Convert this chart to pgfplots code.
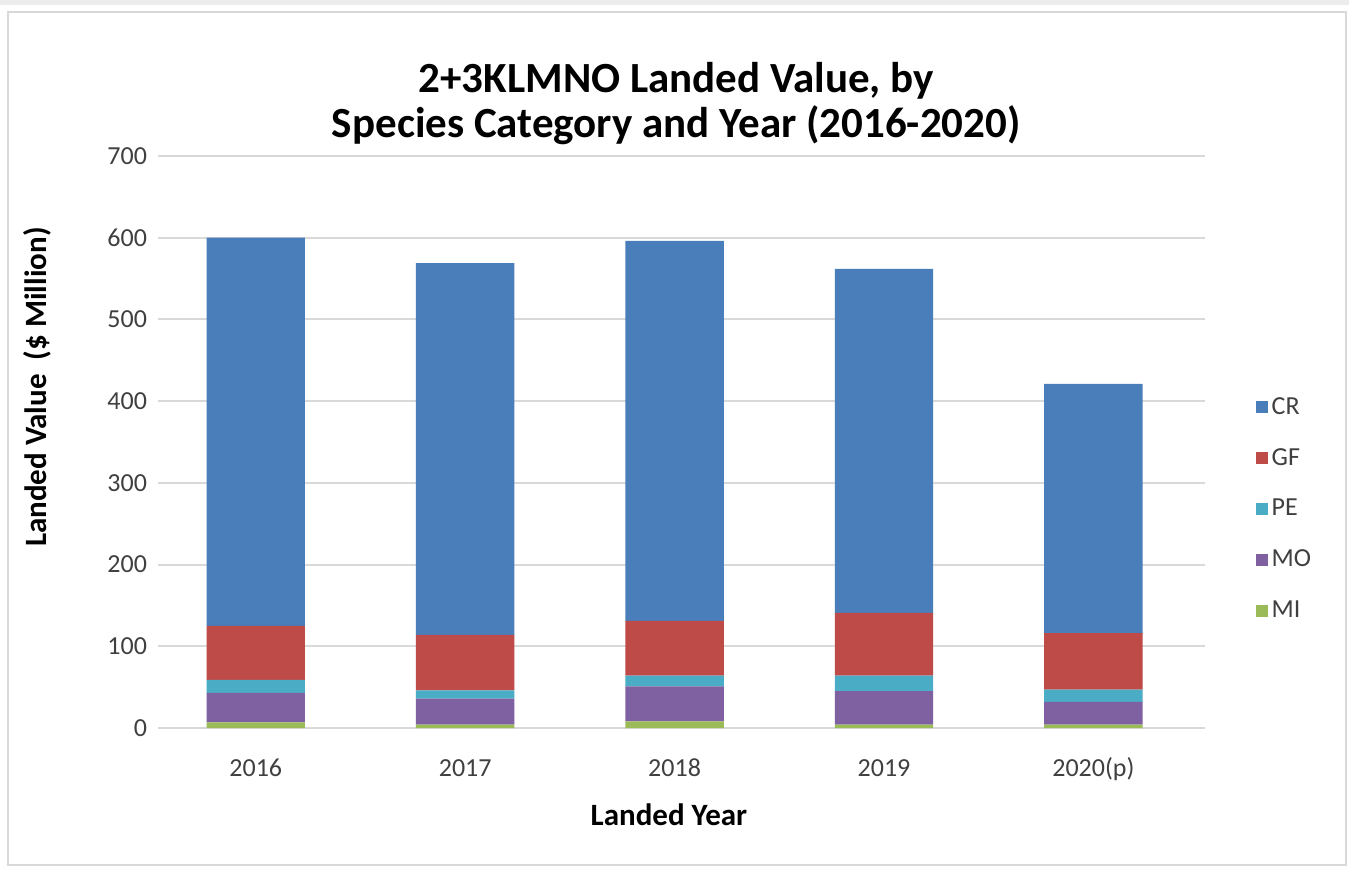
\documentclass[border=0pt]{standalone}
\usepackage{pgfplots}
\pgfplotsset{compat=1.18}
\usepackage{fontspec}
\setmainfont{Carlito}

\definecolor{crblue}{HTML}{4A7EBB}
\definecolor{gfred}{HTML}{BE4B48}
\definecolor{peteal}{HTML}{4BACC6}
\definecolor{mopurple}{HTML}{7F60A0}
\definecolor{migreen}{HTML}{9BBB59}
\definecolor{gridgray}{HTML}{D9D9D9}
\definecolor{ticktext}{HTML}{404040}

\begin{document}
\begin{tikzpicture}
% page background and chart frame
\fill[white] (-79pt,-70pt) rectangle (595.5pt,364pt);
\fill[gray!15] (-79pt,361.5pt) rectangle (595.5pt,364pt);
\draw[gridgray, line width=1.2pt] (-75pt,-68.5pt) rectangle (594pt,358pt);
\begin{axis}[
  scale only axis,
  width=523.5pt, height=286pt,
  ybar stacked,
  bar width=0.47,
  xmin=-0.467, xmax=4.533,
  ymin=0, ymax=700,
  ytick={0,100,...,700},
  xtick={0,1,2,3,4},
  xticklabels={2016,2017,2018,2019,2020(p)},
  major tick length=0pt,
  axis line style={draw=none},
  ymajorgrids,
  grid style={line width=1pt, gridgray},
  /pgf/number format/assume math mode=true,
  tick label style={font=\fontsize{13}{15}\selectfont, text=ticktext},
  yticklabel style={xshift=-2pt},
  xticklabel style={anchor=base, yshift=-24pt},
  title={2+3KLMNO Landed Value, by\\Species Category and Year (2016-2020)},
  title style={at={(0.495,1.07)}, anchor=center, align=center,
    font=\fontsize{21.5}{22.5}\selectfont\bfseries},
  xlabel={Landed Year},
  ylabel={Landed Value\ \ (\$ Million)},
  xlabel style={at={(axis description cs:0.488,-0.152)}, anchor=center,
    font=\fontsize{15.5}{17}\selectfont\bfseries},
  ylabel style={at={(axis description cs:-0.1156,0.596)}, anchor=center, rotate=0,
    font=\fontsize{15.5}{17}\selectfont\bfseries},
  reverse legend,
  legend cell align=left,
  legend style={at={(1.048,0.383)}, anchor=west, draw=none, fill=none,
    font=\fontsize{13}{15}\selectfont, text=ticktext,
    row sep=11.5pt, inner sep=0pt},
  legend image code/.code={\fill[#1] (0pt,-3pt) rectangle (6pt,3pt);},
]
\addplot[fill=migreen, draw=none] coordinates {(0,7) (1,4) (2,8) (3,4) (4,4)};
\addplot[fill=mopurple, draw=none] coordinates {(0,36) (1,32) (2,43) (3,41) (4,28)};
\addplot[fill=peteal, draw=none] coordinates {(0,16) (1,10) (2,13) (3,19) (4,15)};
\addplot[fill=gfred, draw=none] coordinates {(0,66) (1,68) (2,67) (3,77) (4,69)};
\addplot[fill=crblue, draw=none] coordinates {(0,475) (1,455) (2,465) (3,421) (4,305)};
\legend{MI,MO,PE,GF,CR}
\end{axis}
\path[use as bounding box] (-79pt,-70pt) rectangle (595.5pt,364pt);
\end{tikzpicture}
\end{document}
